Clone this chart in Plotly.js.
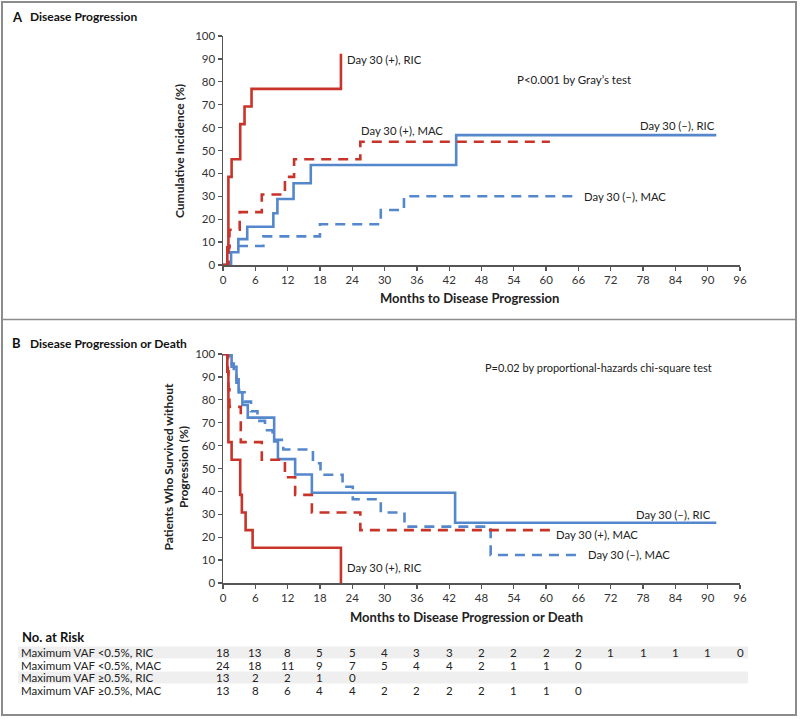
<!DOCTYPE html>
<html>
<head>
<meta charset="utf-8">
<script src="https://cdn.plot.ly/plotly-3.0.1.min.js"></script>
<style>
html,body{margin:0;padding:0;background:#fff;}
#chart{width:800px;height:719px;}
</style>
</head>
<body>
<div id="chart"></div>
<script>
// ---------- Panel A: cumulative incidence of disease progression ----------
var aPosRicX = [0, 0.8, 1.0, 1.6, 3.2, 4.0, 5.3, 21.9];
var aPosRicY = [0, 7.7, 38.5, 46.2, 61.5, 69.2, 76.9, 92.3];
var aPosMacX = [0, 1.0, 1.2, 3.1, 7.2, 11.5, 13.2, 25.5, 60.7];
var aPosMacY = [0, 7.7, 15.4, 23.1, 30.8, 38.5, 46.2, 53.8, 53.8];
var aNegRicX = [0, 1.5, 2.85, 4.5, 9.35, 10.1, 13.1, 16.3, 43.3, 91.6];
var aNegRicY = [0, 5.6, 11.3, 16.7, 22.6, 28.8, 35.7, 43.7, 56.7, 56.7];
var aNegMacX = [0, 1.1, 7.5, 18.0, 29.3, 33.6, 65.7];
var aNegMacY = [0, 8.3, 12.5, 17.8, 24.0, 30.0, 30.0];

// ---------- Panel B: survival without progression ----------
var bPosRicX = [0, 0.8, 1.0, 1.6, 3.2, 3.5, 4.2, 5.5, 21.9];
var bPosRicY = [100, 92.3, 61.5, 53.8, 38.5, 30.8, 23.1, 15.4, 0];
var bPosMacX = [0, 0.9, 1.0, 1.2, 3.3, 7.2, 11.5, 13.4, 16.5, 25.5, 60.7];
var bPosMacY = [100, 92.3, 84.6, 76.9, 61.5, 53.8, 46.2, 38.5, 30.8, 23.1, 23.1];
var bNegRicX = [0, 1.6, 2.5, 2.9, 3.6, 4.6, 9.5, 10.2, 13.4, 16.5, 43.1, 91.6];
var bNegRicY = [100, 94.4, 88.9, 83.3, 77.8, 72.2, 61.8, 54.1, 47.4, 39.4, 26.3, 26.3];
var bNegMacX = [0, 1.2, 2.0, 2.5, 3.0, 4.0, 5.2, 6.4, 7.8, 9.2, 11.2, 16.7, 18.1, 22.2, 24.1, 29.3, 33.7, 49.7, 65.7];
var bNegMacY = [100, 95.8, 91.7, 87.5, 83.3, 79.2, 75.0, 70.8, 66.7, 62.5, 58.3, 52.3, 47.3, 42.0, 36.6, 30.8, 24.6, 12.2, 12.2];

// ---------- Number at risk table ----------
var riskMonths = [0, 6, 12, 18, 24, 30, 36, 42, 48, 54, 60, 66, 72, 78, 84, 90, 96];
var riskLabels = ["Maximum VAF <0.5%, RIC", "Maximum VAF <0.5%, MAC", "Maximum VAF \u22650.5%, RIC", "Maximum VAF \u22650.5%, MAC"];
var riskNegRic = [18, 13, 8, 5, 5, 4, 3, 3, 2, 2, 2, 2, 1, 1, 1, 1, 0];
var riskNegMac = [24, 18, 11, 9, 7, 5, 4, 4, 2, 1, 1, 0];
var riskPosRic = [13, 2, 2, 1, 0];
var riskPosMac = [13, 8, 6, 4, 4, 2, 2, 2, 2, 1, 1, 0];

var W = 800, H = 719;
var RED = '#c8342a', BLUE = '#5587cc';
var FONT = 'Lato, "Open Sans", sans-serif';
function px(x){ return x / W; }
function py(y){ return 1 - y / H; }

function stepTrace(x, y, color, dashed, xa, ya){
  return {x: x, y: y, type: 'scatter', mode: 'lines', xaxis: xa, yaxis: ya,
    line: {shape: 'hv', color: color, width: 2.6, dash: dashed ? '10px,7px' : 'solid'},
    hoverinfo: 'skip', showlegend: false};
}

var data = [
  stepTrace(aNegMacX, aNegMacY, BLUE, true, 'x', 'y'),
  stepTrace(aNegRicX, aNegRicY, BLUE, false, 'x', 'y'),
  stepTrace(aPosMacX, aPosMacY, RED, true, 'x', 'y'),
  stepTrace(aPosRicX, aPosRicY, RED, false, 'x', 'y'),
  stepTrace(bNegMacX, bNegMacY, BLUE, true, 'x2', 'y2'),
  stepTrace(bNegRicX, bNegRicY, BLUE, false, 'x2', 'y2'),
  stepTrace(bPosMacX, bPosMacY, RED, true, 'x2', 'y2'),
  stepTrace(bPosRicX, bPosRicY, RED, false, 'x2', 'y2')
];

var axisCommon = {
  showline: true, linecolor: '#555', linewidth: 1.5,
  ticks: 'outside', ticklen: 4, tickwidth: 1.3, tickcolor: '#555',
  showgrid: false, zeroline: false, fixedrange: true,
  tickfont: {family: FONT, size: 11.5, color: '#333'}
};
function ax(extra){ return Object.assign({}, axisCommon, extra); }

var xDom = [px(223), px(740)];
var layout = {
  width: W, height: H, autosize: false,
  margin: {l: 0, r: 0, t: 0, b: 0},
  paper_bgcolor: '#fff', plot_bgcolor: 'rgba(0,0,0,0)',
  showlegend: false,
  xaxis: ax({domain: xDom, range: [0, 96], tick0: 0, dtick: 6, anchor: 'y'}),
  yaxis: ax({domain: [py(265), py(36)], range: [0, 100], tick0: 0, dtick: 10, anchor: 'x'}),
  xaxis2: ax({domain: xDom, range: [0, 96], tick0: 0, dtick: 6, anchor: 'y2'}),
  yaxis2: ax({domain: [py(583), py(354)], range: [0, 100], tick0: 0, dtick: 10, anchor: 'x2'}),
  shapes: [],
  annotations: []
};

// frame and divider
layout.shapes.push({type: 'rect', xref: 'paper', yref: 'paper', x0: px(2), x1: px(796), y0: py(2), y1: py(715),
  line: {color: '#8c8c8c', width: 2}, fillcolor: 'rgba(0,0,0,0)', layer: 'below'});
layout.shapes.push({type: 'line', xref: 'paper', yref: 'paper', x0: px(2), x1: px(796), y0: py(319.5), y1: py(319.5),
  line: {color: '#8c8c8c', width: 1.5}, layer: 'below'});
// table bands
[[646.5, 658.5], [671.5, 683.5]].forEach(function(b){
  layout.shapes.push({type: 'rect', xref: 'paper', yref: 'paper', x0: px(18), x1: px(748), y0: py(b[1]), y1: py(b[0]),
    line: {width: 0}, fillcolor: '#efefef', layer: 'below'});
});

function ann(text, x, y, opts){
  var a = Object.assign({text: text, xref: 'paper', yref: 'paper', x: px(x), y: py(y),
    xanchor: 'left', yanchor: 'middle', showarrow: false,
    font: {family: FONT, size: 11.3, color: '#222'}}, opts || {});
  layout.annotations.push(a);
}

// panel titles
ann('<b>A</b>', 10, 17, {font: {family: FONT, size: 13, color: '#111'}});
ann('<b>Disease Progression</b>', 28, 17, {font: {family: FONT, size: 12, color: '#111'}});
ann('<b>B</b>', 10, 343, {font: {family: FONT, size: 13, color: '#111'}});
ann('<b>Disease Progression or Death</b>', 28, 343, {font: {family: FONT, size: 12, color: '#111'}});

// axis titles
ann('<b>Months to Disease Progression</b>', 469, 298, {xanchor: 'center', font: {family: FONT, size: 13, color: '#222'}});
ann('<b>Months to Disease Progression or Death</b>', 466, 617, {xanchor: 'center', font: {family: FONT, size: 13, color: '#222'}});
ann('<b>Cumulative Incidence (%)</b>', 180, 151, {xanchor: 'center', textangle: -90, font: {family: FONT, size: 12, color: '#222'}});
ann('<b>Patients Who Survived without<br>Progression (%)</b>', 175.5, 467, {xanchor: 'center', textangle: -90, font: {family: FONT, size: 12, color: '#222'}});

// curve labels and tests, panel A
ann('Day 30 (+), RIC', 345, 59);
ann('P<0.001 by Gray\u2019s test', 515, 80, {font: {family: FONT, size: 11.5, color: '#222'}});
ann('Day 30 (+), MAC', 359, 131);
ann('Day 30 (\u2013), RIC', 717, 126, {xanchor: 'right'});
ann('Day 30 (\u2013), MAC', 582, 196);
// panel B
ann('P=0.02 by proportional-hazards chi-square test', 483, 367, {font: {family: FONT, size: 11, color: '#222'}});
ann('Day 30 (\u2013), RIC', 713, 514, {xanchor: 'right'});
ann('Day 30 (+), MAC', 554, 534);
ann('Day 30 (\u2013), MAC', 586, 554);
ann('Day 30 (+), RIC', 345, 567);

// number at risk table
ann('<b>No. at Risk</b>', 20, 637, {font: {family: FONT, size: 13, color: '#111'}});
var rowsY = [652, 665, 677.5, 690];
var rowsVals = [riskNegRic, riskNegMac, riskPosRic, riskPosMac];
riskLabels.forEach(function(lbl, i){
  ann(lbl, 20, rowsY[i], {borderpad: 0, font: {family: FONT, size: 11.5, color: '#222'}});
  rowsVals[i].forEach(function(v, j){
    layout.annotations.push({text: String(v), xref: 'x2', yref: 'paper', x: riskMonths[j], y: py(rowsY[i]),
      xanchor: 'center', yanchor: 'middle', showarrow: false, borderpad: 0,
      font: {family: FONT, size: 11.5, color: '#222'}});
  });
});

Plotly.newPlot('chart', data, layout, {staticPlot: true, displayModeBar: false});
</script>
</body>
</html>
